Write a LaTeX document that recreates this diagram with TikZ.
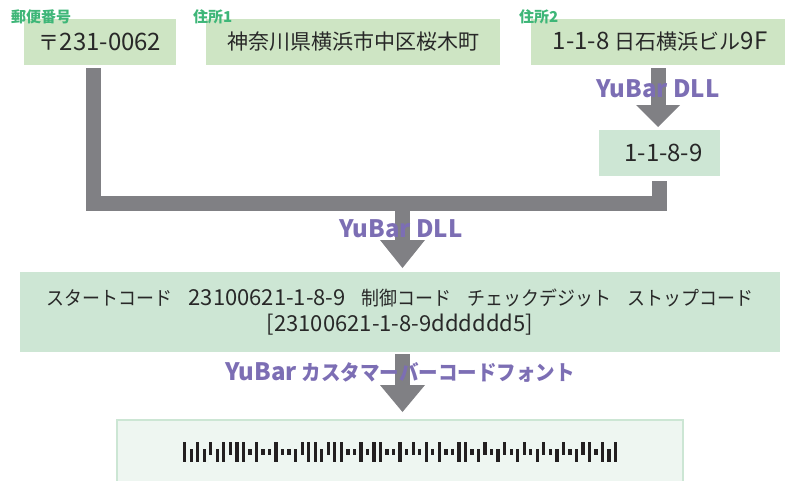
\documentclass[tikz,border=0pt]{standalone}
\usepackage{fontspec}
\setmainfont{Noto Sans CJK JP}
\definecolor{topgreen}{RGB}{206,229,196}
\definecolor{midgreen}{RGB}{205,230,212}
\definecolor{palegreen}{RGB}{238,246,241}
\definecolor{edgegreen}{RGB}{204,230,212}
\definecolor{pipecol}{RGB}{128,128,132}
\definecolor{purp}{RGB}{124,110,180}
\definecolor{labgreen}{RGB}{62,182,120}
\definecolor{txt}{RGB}{40,40,40}
\definecolor{barc}{RGB}{35,31,32}
\newcommand\LatT[1]{{\fontsize{24}{25}\selectfont #1}}
\newcommand\LatM[1]{{\fontsize{22}{26}\selectfont #1}}
\newcommand\KanaM[1]{\scalebox{0.92}[1]{\fontsize{19.5}{26}\selectfont #1}}
\newcommand\LatP[1]{{\fontsize{24}{24}\selectfont #1}}
\newcommand\KanaP[1]{\scalebox{0.93}[1]{#1}}
\begin{document}
\begin{tikzpicture}[x=1pt,y=-1pt,
  inbox/.style={fill=topgreen, minimum height=46pt, inner sep=0pt, text=txt, font=\fontsize{21}{25}\selectfont},
  midbox/.style={fill=midgreen, inner sep=0pt, text=txt, align=center, font=\fontsize{18}{26}\selectfont},
  lab/.style={text=labgreen, inner sep=0pt, font=\bfseries\fontsize{15}{15}\selectfont},
  plab/.style={text=purp, inner sep=0pt, font=\bfseries\fontsize{21}{21}\selectfont},
  pipe/.style={draw=pipecol, line width=15pt, line cap=butt, line join=miter},
  head/.style={fill=pipecol}
]
\useasboundingbox (0,0) rectangle (785,480);

% input boxes
\node[inbox, minimum width=152pt] (b1) at (100,42) {〒\LatT{231-0062}};
\node[inbox, minimum width=294pt] (b2) at (353,42) {神奈川県横浜市中区桜木町};
\node[inbox, minimum width=254pt] (b3) at (658,42) {\hspace{4pt}\LatT{1-1-8 }日石横浜ビル\LatT{9F}};
\node[lab, anchor=west] (l1) at (11,17) {郵便番号};
\node[lab, anchor=west] (l2) at (193,17) {住所1};
\node[lab, anchor=west] (l3) at (519,17) {住所2};

% 1-1-8-9 box
\node[inbox, fill=midgreen, minimum width=121pt, minimum height=46pt] (b4) at (659.5,153) {\hspace{8pt}\LatT{1-1-8-9}};

% arrow b3 -> b4
\coordinate (a1s) at (658,68);
\coordinate (a1e) at (658,105);
\draw[pipe] (a1s) -- (a1e);
\fill[head] (636,105) -- (680,105) -- (658,127) -- cycle;
\node[plab] (t1) at (658,89) {\LatP{YuBar DLL}};

% bracket
\coordinate (kL) at (93.5,68);
\coordinate (kLB) at (93.5,203.5);
\coordinate (kRB) at (659.5,203.5);
\coordinate (kR) at (659.5,181);
\draw[pipe] (kL) -- (kLB) -- (kRB) -- (kR);

% center arrow
\coordinate (a2s) at (402.5,211);
\coordinate (a2e) at (402.5,240);
\draw[pipe] (a2s) -- (a2e);
\fill[head] (380,240) -- (425,240) -- (402.5,268) -- cycle;
\node[plab] (t2) at (401,229) {\LatP{YuBar DLL}};

% main box
\node[midbox, minimum width=760pt, minimum height=80pt] (m) at (400,312)
  {\KanaM{スタートコード}\hspace{0.9em}\LatM{23100621-1-8-9}\hspace{0.9em}\KanaM{制御コード}\hspace{0.9em}\KanaM{チェックデジット}\hspace{0.9em}\KanaM{ストップコード}\\\LatM{{[}23100621-1-8-9dddddd5{]}}};

% arrow to barcode
\coordinate (a3s) at (402.5,354);
\coordinate (a3e) at (402.5,385);
\draw[pipe] (a3s) -- (a3e);
\fill[head] (380,385) -- (425,385) -- (402.5,412) -- cycle;
\node[plab] (t3) at (400,372) {\LatP{YuBar} \KanaP{カスタマーバーコードフォント}};

% barcode box
\begin{scope}
\clip (0,0) rectangle (785,480);
\draw[fill=palegreen, draw=edgegreen, line width=2pt] (117,420) rectangle (683,484);
\end{scope}
\foreach \t [count=\i from 0] in {1,3, 1,3,2, 3,1,2, 1,1,4, 1,4,4, 1,4,4, 3,2,1, 1,3,2, 1,1,4, 4,1,4, 1,1,4, 4,1,4, 2,4,1, 4,1,4, 4,1,1, 4,3,2, 4,3,2, 4,3,2, 4,3,2, 4,3,2, 4,3,2, 1,4,1, 3,1}{
  \ifcase\t\or \def\yt{442}\def\yb{462}\or \def\yt{442}\def\yb{455.3}\or \def\yt{448.7}\def\yb{462}\or \def\yt{448.7}\def\yb{455.3}\fi
  \fill[barc] ({183+\i*6.53},\yt) rectangle ({183+\i*6.53+3.3},\yb);
}
\end{tikzpicture}
\end{document}
